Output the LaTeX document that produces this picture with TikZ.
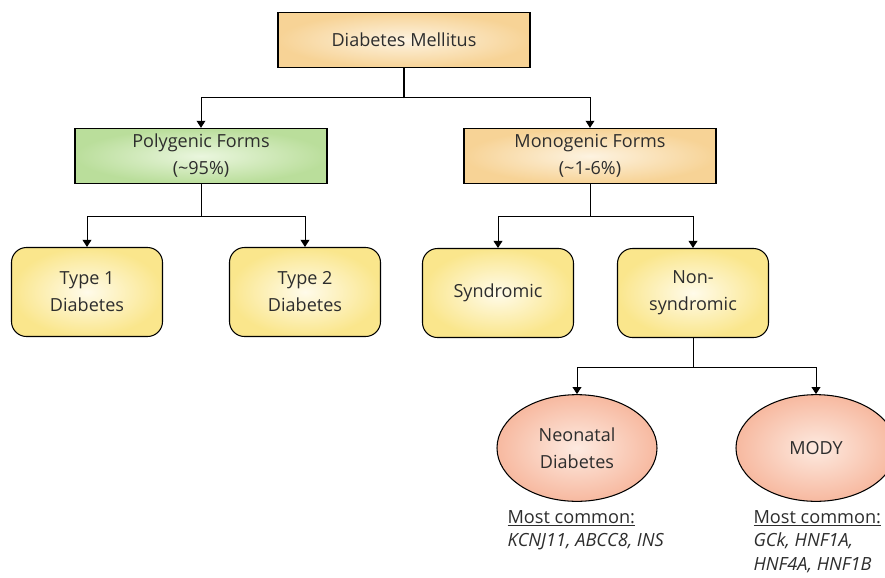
\documentclass[tikz,border=0pt]{standalone}
\usepackage{fontspec}
\setmainfont{Open Sans}
\usetikzlibrary{shapes.geometric,arrows.meta}
\definecolor{peach}{RGB}{247,211,150}
\definecolor{peachlt}{RGB}{253,243,225}
\definecolor{leaf}{RGB}{186,222,155}
\definecolor{leaflt}{RGB}{234,246,222}
\definecolor{butter}{RGB}{250,230,140}
\definecolor{butterlt}{RGB}{255,251,234}
\definecolor{salmon}{RGB}{247,185,160}
\definecolor{salmonlt}{RGB}{253,234,224}
\definecolor{ink}{RGB}{45,45,45}

\begin{document}
\begin{tikzpicture}[x=0.03cm,y=-0.03cm,line cap=round,
  every node/.style={text=ink,font=\fontsize{15.4}{23}\selectfont},
  formbox/.style={draw=black,line width=0.9pt,minimum width=7.56cm,minimum height=1.66cm,align=center,shading=radial},
  typebox/.style={draw=black,line width=0.9pt,rounded corners=0.45cm,minimum width=4.53cm,minimum height=2.67cm,align=center,shading=radial,inner color=butterlt,outer color=butter},
  genebub/.style={ellipse,draw=black,line width=0.9pt,minimum width=4.8cm,minimum height=3.2cm,inner sep=0pt,align=center,shading=radial,inner color=salmonlt,outer color=salmon},
  genelbl/.style={anchor=north west,align=left,inner sep=2pt,font=\fontsize{15.5}{20}\selectfont},
  arr/.style={-{Triangle[width=7.5pt,length=6pt]},line width=0.8pt}]
  \useasboundingbox (0,0) rectangle (885,577);
  \node[formbox,inner color=peachlt,outer color=peach] (dm) at (404,40) {Diabetes Mellitus};
  \node[formbox,inner color=leaflt,outer color=leaf] (poly) at (201,156) {Polygenic Forms\\(\textasciitilde95\%)};
  \node[formbox,inner color=peachlt,outer color=peach] (mono) at (590,156) {Monogenic Forms\\(\textasciitilde1-6\%)};
  \node[typebox] (t1) at (87,292) {Type 1\\Diabetes};
  \node[typebox] (t2) at (305,292) {Type 2\\Diabetes};
  \node[typebox] (synd) at (498,293) {Syndromic};
  \node[typebox] (nonsynd) at (693,293) {Non-\\syndromic};
  \node[genebub] (neo) at (577,448) {Neonatal\\Diabetes};
  \node[genebub] (mody) at (816,448) {MODY};
  \node[genelbl] (neolbl) at (505,508) {\underline{Most common:}\\\textit{KCNJ11, ABCC8, INS}};
  \node[genelbl] (modylbl) at (751,508) {\underline{Most common:}\\\textit{GCk, HNF1A,}\\\textit{HNF4A, HNF1B}};
  \draw[line width=1.8pt] (dm.south) -- ++(0,29) coordinate (dmsplit);
  \draw[arr] (dmsplit) -| (poly.north);
  \draw[arr] (dmsplit) -| (mono.north);
  \draw[line width=0.8pt] (poly.south) -- ++(0,32) coordinate (polysplit);
  \draw[arr] (polysplit) -| (t1.north);
  \draw[arr] (polysplit) -| (t2.north);
  \draw[line width=0.8pt] (mono.south) -- ++(0,32) coordinate (monosplit);
  \draw[arr] (monosplit) -| (synd.north);
  \draw[arr] (monosplit) -| (nonsynd.north);
  \draw[line width=0.8pt] (nonsynd.south) -- ++(0,29) coordinate (nssplit);
  \draw[arr] (nssplit) -| (neo.north);
  \draw[arr] (nssplit) -| (mody.north);
\end{tikzpicture}
\end{document}
